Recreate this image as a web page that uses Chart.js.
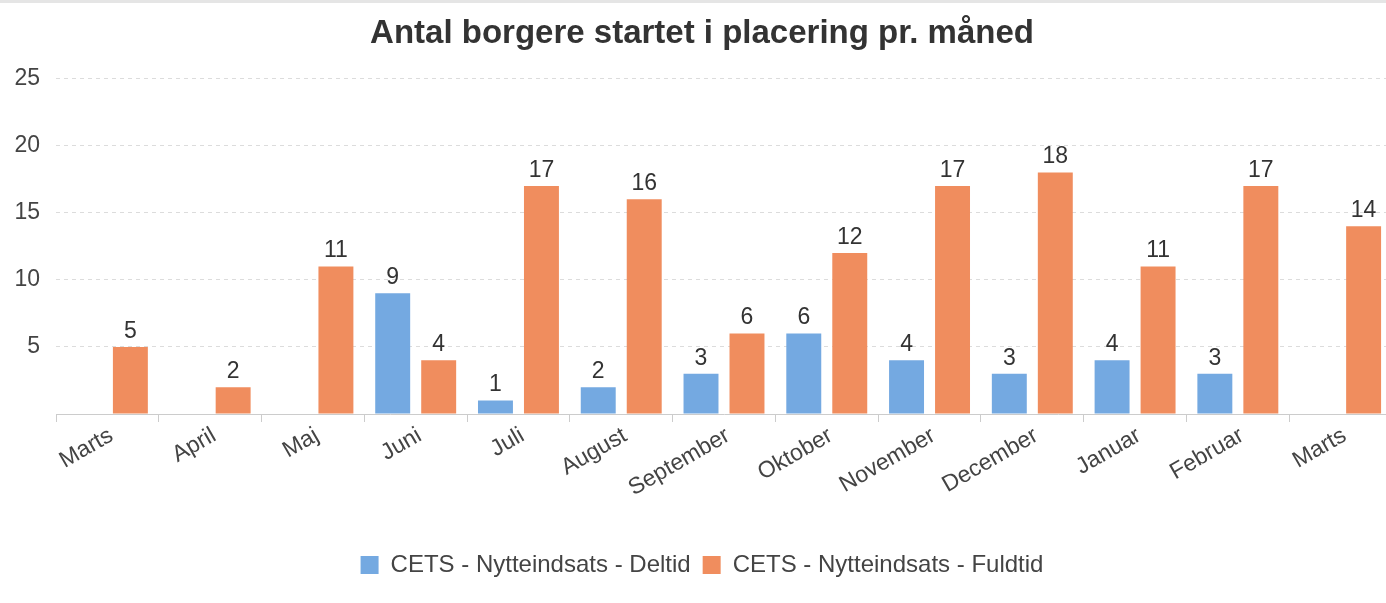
<!DOCTYPE html>
<html>
<head>
<meta charset="utf-8">
<script src="https://cdn.jsdelivr.net/npm/chart.js@4/dist/chart.umd.min.js"></script>
<style>
  html, body { margin: 0; padding: 0; background: #fff; overflow: hidden; }
  #wrap { position: relative; width: 1386px; height: 603px; overflow: hidden; }
  #topbar { position: absolute; left: 0; top: 0; width: 100%; height: 3px; background: #e5e5e5; }
  canvas { display: block; margin-left: 12px; }
</style>
</head>
<body>
<div id="wrap">
  <canvas id="barChart" width="1394" height="603"></canvas>
  <div id="topbar"></div>
</div>
<script>
var months = ['Marts', 'April', 'Maj', 'Juni', 'Juli', 'August', 'September',
              'Oktober', 'November', 'December', 'Januar', 'Februar', 'Marts'];
var deltid = [null, null, null, 9, 1, 2, 3, 6, 4, 3, 4, 3, null];
var fuldtid = [5, 2, 11, 4, 17, 16, 6, 12, 17, 18, 11, 17, 14];
var yTicks = [5, 10, 15, 20, 25];

var fontFamily = '"Liberation Sans", Arial, sans-serif';

// tal over søjlerne
var valueLabels = {
    id: 'valueLabels',
    afterDatasetsDraw: function(chart) {
        var ctx = chart.ctx;
        ctx.save();
        ctx.font = '23px ' + fontFamily;
        ctx.fillStyle = '#333';
        ctx.textAlign = 'center';
        ctx.textBaseline = 'bottom';
        chart.data.datasets.forEach(function(ds, i) {
            var meta = chart.getDatasetMeta(i);
            meta.data.forEach(function(bar, j) {
                var v = ds.data[j];
                if (v === null || v === undefined) return;
                ctx.fillText(String(v), bar.x, bar.y - 4);
            });
        });
        ctx.restore();
    }
};

var ctx = document.getElementById('barChart').getContext('2d');
var chart = new Chart(ctx, {
    type: 'bar',
    data: {
        labels: months,
        datasets: [{
            label: 'CETS - Nytteindsats - Deltid',
            data: deltid,
            backgroundColor: '#74a9e1',
            borderWidth: 0
        }, {
            label: 'CETS - Nytteindsats - Fuldtid',
            data: fuldtid,
            backgroundColor: '#f08d5e',
            borderWidth: 0
        }]
    },
    options: {
        responsive: false,
        animation: false,
        categoryPercentage: 0.895,
        barPercentage: 0.76,
        layout: { padding: { left: 0, right: 14, top: 0, bottom: 16 } },
        plugins: {
            title: {
                display: true,
                text: 'Antal borgere startet i placering pr. måned',
                color: '#333',
                font: { family: fontFamily, size: 33, weight: 'bold' },
                padding: { top: 14, bottom: 25 }
            },
            legend: {
                position: 'bottom',
                labels: {
                    color: '#444',
                    font: { family: fontFamily, size: 24 },
                    boxWidth: 18,
                    boxHeight: 18,
                    padding: 12
                }
            },
            tooltip: { enabled: false }
        },
        scales: {
            x: {
                grid: {
                    offset: true,
                    drawOnChartArea: false,
                    tickLength: 8,
                    color: '#ccc'
                },
                border: { color: '#ccc', width: 1 },
                ticks: {
                    color: '#444',
                    font: { family: fontFamily, size: 23 },
                    minRotation: 30,
                    maxRotation: 30,
                    padding: 0,
                    labelOffset: 4
                },
                afterFit: function(scale) { scale.height = 127; }
            },
            y: {
                min: 0,
                max: 25,
                afterBuildTicks: function(scale) {
                    scale.ticks = [{ value: 0 }].concat(yTicks.map(function(v) { return { value: v }; }));
                },
                grid: {
                    drawTicks: false,
                    color: function(c) { return c.tick && c.tick.value === 0 ? 'rgba(0,0,0,0)' : '#dcdcdc'; }
                },
                border: { display: false, dash: [4, 4] },
                ticks: {
                    color: '#444',
                    font: { family: fontFamily, size: 23 },
                    padding: 16,
                    callback: function(v) { return v === 0 ? '' : v; }
                },
                afterFit: function(scale) { scale.width = 44; }
            }
        }
    },
    plugins: [valueLabels]
});
</script>
</body>
</html>
